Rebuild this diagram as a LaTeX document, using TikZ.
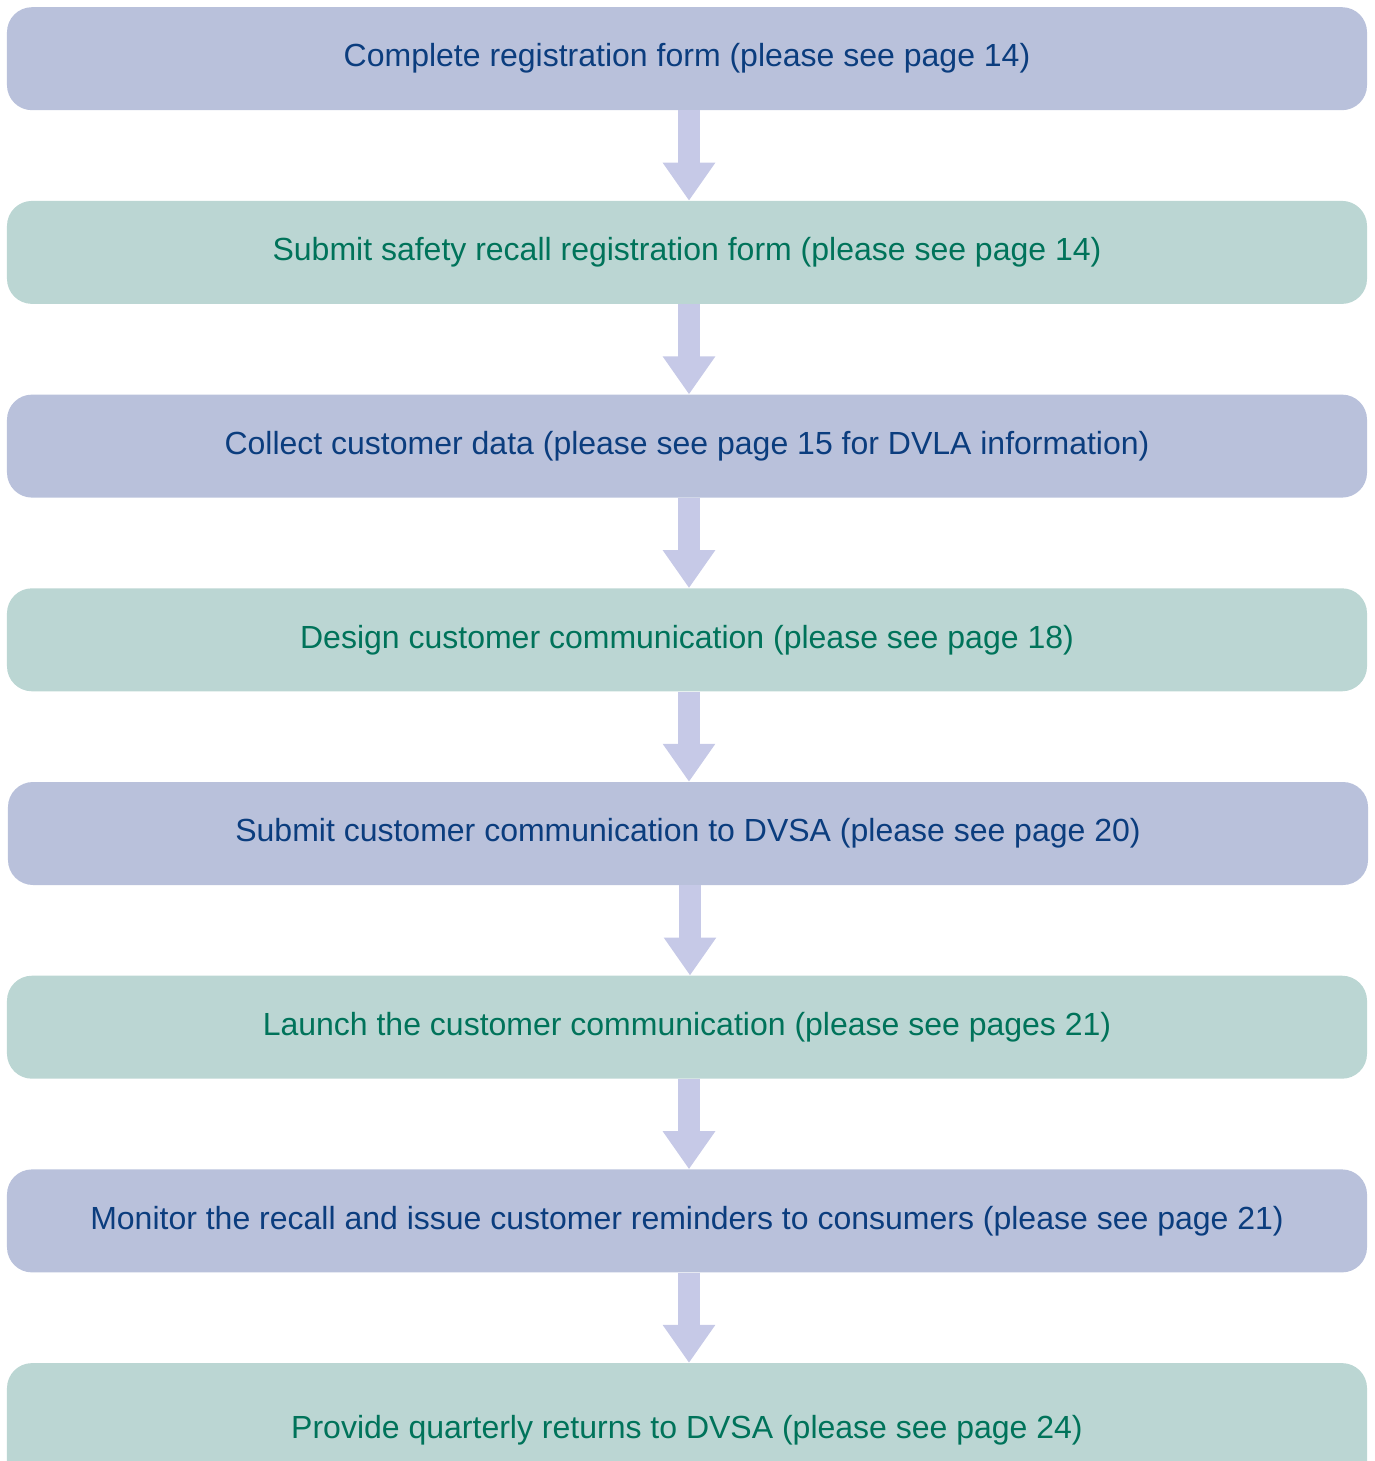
\documentclass[tikz,border=0pt]{standalone}
\usepackage{fontspec}
\setmainfont{Liberation Sans}
\usetikzlibrary{arrows.meta}
\definecolor{boxblue}{HTML}{B9C1DB}
\definecolor{boxgreen}{HTML}{BBD6D3}
\definecolor{arrowcol}{HTML}{C6C9E7}
\definecolor{txtblue}{HTML}{0B3D7E}
\definecolor{txtgreen}{HTML}{00735A}
\tikzset{
  stepbox/.style={rounded corners=25bp, minimum width=1360bp, minimum height=103bp,
    inner sep=0pt, anchor=north, font=\fontsize{32bp}{38bp}\selectfont},
  bluebox/.style={stepbox, fill=boxblue, text=txtblue},
  greenbox/.style={stepbox, fill=boxgreen, text=txtgreen},
  flowarrow/.style={draw=arrowcol, line width=22bp,
    -{Triangle[width=50bp,length=38bp]}, arrowcol}
}
\begin{document}
\begin{tikzpicture}[x=1bp,y=-1bp]
\useasboundingbox (0,0) rectangle (1375,1461);
\clip (0,0) rectangle (1375,1461);
\node[bluebox]  (b1) at (687,7)      {Complete registration form (please see page 14)};
\node[greenbox] (b2) at (687,200.7)  {Submit safety recall registration form (please see page 14)};
\node[bluebox]  (b3) at (687,394.4)  {Collect customer data (please see page 15 for DVLA information)};
\node[greenbox] (b4) at (687,588.1)  {Design customer communication (please see page 18)};
\node[bluebox]  (b5) at (688,781.8)  {Submit customer communication to DVSA (please see page 20)};
\node[greenbox] (b6) at (687,975.5)  {Launch the customer communication (please see pages 21)};
\node[bluebox]  (b7) at (687,1169.2) {Monitor the recall and issue customer reminders to consumers (please see page 21)};
\node[greenbox, minimum height=134bp] (b8) at (687,1362.9) {Provide quarterly returns to DVSA (please see page 24)};
\foreach \a/\b in {b1/b2,b2/b3,b3/b4,b4/b5,b5/b6,b6/b7,b7/b8}{
  \draw[flowarrow] ([xshift=2bp]\a.south) -- ([xshift=2bp]\a.south |- \b.north);
}
\end{tikzpicture}
\end{document}
